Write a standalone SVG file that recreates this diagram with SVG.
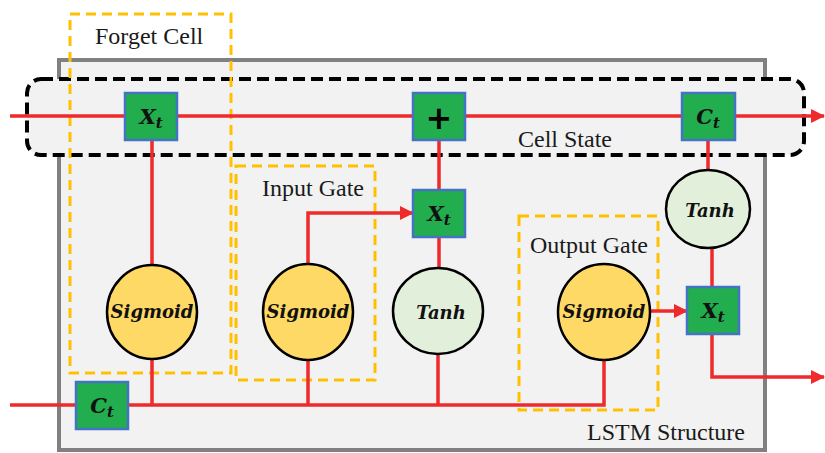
<svg xmlns="http://www.w3.org/2000/svg" width="825" height="453" viewBox="0 0 825 453">
<defs>
<style>
.red{stroke:#ef2a2c;stroke-width:3.5;fill:none}
.box{fill:#22ae4e;stroke:#4472c4;stroke-width:2.5}
.sig{fill:#ffd966;stroke:#000;stroke-width:2.5}
.tanh{fill:#e2efda;stroke:#000;stroke-width:2.5}
.grp{fill:none;stroke:#ffc000;stroke-width:3;stroke-dasharray:10 6}
.lbl{font-family:"Liberation Serif","Times New Roman",serif;font-size:24px;fill:#1a1a1a}
.math{font-family:"DejaVu Serif",serif;font-weight:bold;font-style:italic;fill:#111;text-anchor:middle}
.sym{font-size:21px}
.sub{font-size:15px}
.fn{font-size:18px}
</style>
<marker id="ah" markerWidth="14" markerHeight="14" refX="13" refY="7" orient="auto" markerUnits="userSpaceOnUse"><path d="M0,0 L14,7 L0,14 z" fill="#ef2a2c"/></marker>
</defs>
<rect width="825" height="453" fill="#fff"/>
<g id="lstm-structure">
<rect x="59" y="60" width="706" height="390" fill="#f2f2f2" stroke="#808080" stroke-width="4"/>
<text class="lbl" x="587" y="440">LSTM Structure</text>
</g>
<g id="cell-state">
<rect x="27" y="79" width="777" height="76" rx="14" fill="#f2f2f2" stroke="#000" stroke-width="4" stroke-dasharray="12 6"/>
<text class="lbl" x="518" y="147">Cell State</text>
</g>
<g id="forget-cell">
<rect class="grp" x="70" y="14" width="161" height="359"/>
<text class="lbl" x="95" y="44">Forget Cell</text>
</g>
<g id="input-gate">
<rect class="grp" x="236" y="166" width="139" height="214"/>
<text class="lbl" x="262" y="196">Input Gate</text>
</g>
<g id="output-gate">
<rect class="grp" x="519" y="216" width="139" height="194"/>
<text class="lbl" x="530" y="253">Output Gate</text>
</g>
<g id="connectors">
<path class="red" d="M10,116 H824" marker-end="url(#ah)"/>
<path class="red" d="M10,405 H604 V360"/>
<path class="red" d="M152,140 V266"/>
<path class="red" d="M152,360 V405"/>
<path class="red" d="M308,360 V405"/>
<path class="red" d="M308,263 V213 H413" marker-end="url(#ah)"/>
<path class="red" d="M439,140 V190"/>
<path class="red" d="M439,237 V268"/>
<path class="red" d="M438,353 V405"/>
<path class="red" d="M708,140 V170"/>
<path class="red" d="M712,248 V287"/>
<path class="red" d="M650,311 H687" marker-end="url(#ah)"/>
<path class="red" d="M712,334 V377 H824" marker-end="url(#ah)"/>
</g>
<g id="forget-mult">
<rect class="box" x="125" y="93" width="52" height="47"/>
<text class="math sym" x="151" y="124">X<tspan class="sub" dy="4">t</tspan></text>
</g>
<g id="add">
<rect class="box" x="413" y="93" width="52" height="47"/>
<text x="439" y="129" text-anchor="middle" font-family="DejaVu Sans,sans-serif" font-weight="bold" font-size="32" fill="#000">+</text>
</g>
<g id="cell-out">
<rect class="box" x="682" y="93" width="53" height="47"/>
<text class="math sym" x="708" y="124">C<tspan class="sub" dy="4">t</tspan></text>
</g>
<g id="forget-sigmoid">
<ellipse class="sig" cx="152" cy="312" rx="45" ry="47"/>
<text class="math fn" x="152" y="318">Sigmoid</text>
</g>
<g id="input-sigmoid">
<ellipse class="sig" cx="308" cy="312" rx="45" ry="48"/>
<text class="math fn" x="308" y="318">Sigmoid</text>
</g>
<g id="input-mult">
<rect class="box" x="413" y="190" width="52" height="47"/>
<text class="math sym" x="439" y="221">X<tspan class="sub" dy="4">t</tspan></text>
</g>
<g id="input-tanh">
<ellipse class="tanh" cx="438" cy="311" rx="45" ry="43"/>
<text class="math fn" x="441" y="319">Tanh</text>
</g>
<g id="output-sigmoid">
<ellipse class="sig" cx="604" cy="312" rx="46" ry="48"/>
<text class="math fn" x="604" y="318">Sigmoid</text>
</g>
<g id="output-tanh">
<ellipse class="tanh" cx="708" cy="209" rx="42" ry="39"/>
<text class="math fn" x="710" y="217">Tanh</text>
</g>
<g id="output-mult">
<rect class="box" x="687" y="287" width="52" height="47"/>
<text class="math sym" x="713" y="318">X<tspan class="sub" dy="4">t</tspan></text>
</g>
<g id="prev-cell">
<rect class="box" x="76" y="382" width="52" height="47"/>
<text class="math sym" x="102" y="413">C<tspan class="sub" dy="4">t</tspan></text>
</g>
</svg>
